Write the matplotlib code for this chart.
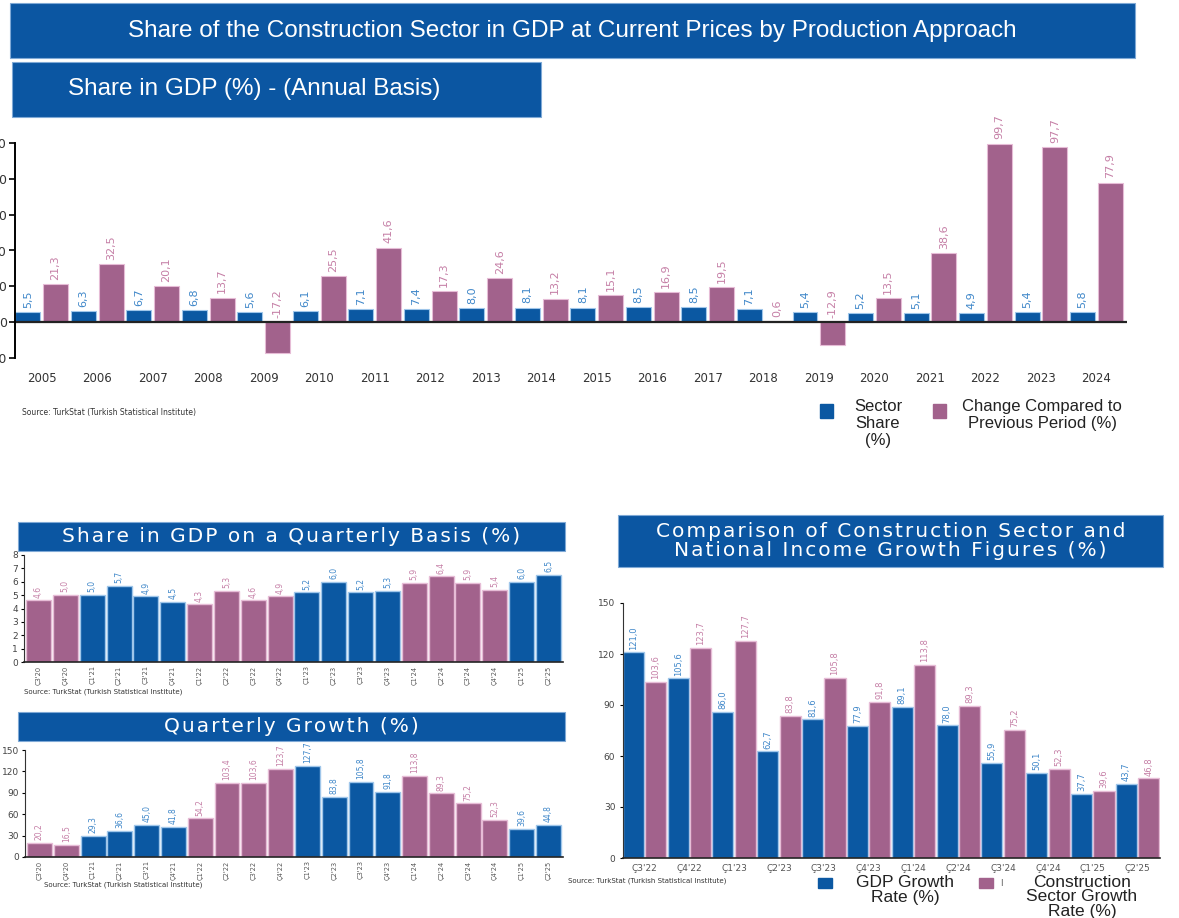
import matplotlib
matplotlib.use('Agg')
import matplotlib.pyplot as plt
from matplotlib.patches import Rectangle

## canvas size in pixels
W, H = 1179, 918

## annual data
years = [str(y) for y in range(2005, 2025)]
sector_share = [5.5, 6.3, 6.7, 6.8, 5.6, 6.1, 7.1, 7.4, 8.0, 8.1, 8.1, 8.5, 8.5, 7.1, 5.4, 5.2, 5.1, 4.9, 5.4, 5.8]
share_change = [21.3, 32.5, 20.1, 13.7, -17.2, 25.5, 41.6, 17.3, 24.6, 13.2, 15.1, 16.9, 19.5, 0.6, -12.9, 13.5, 38.6, 99.7, 97.7, 77.9]
annual_ticks = [-20, 0, 20, 40, 60, 80, 100]

## quarterly data
quarters = ["Ç3'20", "Ç4'20", "Ç1'21", "Ç2'21", "Ç3'21", "Ç4'21", "Ç1'22", "Ç2'22", "Ç3'22", "Ç4'22",
            "Ç1'23", "Ç2'23", "Ç3'23", "Ç4'23", "Ç1'24", "Ç2'24", "Ç3'24", "Ç4'24", "Ç1'25", "Ç2'25"]
q_share = [4.6, 5.0, 5.0, 5.7, 4.9, 4.5, 4.3, 5.3, 4.6, 4.9, 5.2, 6.0, 5.2, 5.3, 5.9, 6.4, 5.9, 5.4, 6.0, 6.5]
q_growth = [20.2, 16.5, 29.3, 36.6, 45.0, 41.8, 54.2, 103.4, 103.6, 123.7, 127.7, 83.8, 105.8, 91.8,
            113.8, 89.3, 75.2, 52.3, 39.6, 44.8]

## comparison data
cmp_quarters = ["Ç3'22", "Ç4'22", "Ç1'23", "Ç2'23", "Ç3'23", "Ç4'23", "Ç1'24", "Ç2'24", "Ç3'24", "Ç4'24", "Ç1'25", "Ç2'25"]
gdp_growth = [121.0, 105.6, 86.0, 62.7, 81.6, 77.9, 89.1, 78.0, 55.9, 50.1, 37.7, 43.7]
constr_growth = [103.6, 123.7, 127.7, 83.8, 105.8, 91.8, 113.8, 89.3, 75.2, 52.3, 39.6, 46.8]

BLUE = '#0b58a2'
PINK = '#a2628c'
BLUE_EDGE = '#9fc6ea'
PINK_EDGE = '#e6bcd6'
BLUE_TXT = '#3f87c9'
PINK_TXT = '#c57fa6'
BANNER = '#0b56a2'
SOURCE = 'Source: TurkStat (Turkish Statistical Institute)'

plt.rcParams['font.family'] = ['DejaVu Sans']

fig = plt.figure(figsize=(W / 100, H / 100), dpi=100)


def rect(x0, y0, x1, y1):
    ## pixel box (top-left origin) -> figure fraction
    return [x0 / W, 1 - y1 / H, (x1 - x0) / W, (y1 - y0) / H]


def spaced(text):
    ## fake letter spacing with hair spaces
    return '\n'.join('\u200a'.join(line) for line in text.split('\n'))


def banner(x0, y0, x1, y1, text, x=None, size=16, family='Liberation Sans', ha='center', ls=1.2):
    fig.patches.append(Rectangle((x0 / W, 1 - y1 / H), (x1 - x0) / W, (y1 - y0) / H,
                                 transform=fig.transFigure, facecolor=BANNER,
                                 edgecolor='#7fa9d6', linewidth=0.8))
    tx = (x0 + x1) / 2 if x is None else x
    fig.text(tx / W, 1 - (y0 + y1) / 2 / H, text, color='white', fontsize=size,
             family=family, ha=ha, va='center', linespacing=ls)


def fmt(v):
    return f'{v:.1f}'.replace('.', ',')


def label_bars(ax, xs, vals, color, size, pad=3):
    for x, v in zip(xs, vals):
        ax.annotate(fmt(v), (x, max(v, 0)), xytext=(0, pad), textcoords='offset points',
                    rotation=90, ha='center', va='bottom', fontsize=size, color=color)


## ---------- banners ----------
banner(10, 3, 1135, 58, 'Share of the Construction Sector in GDP at Current Prices by Production Approach', x=572, size=17.5)
banner(12, 62, 541, 117, 'Share in GDP (%) - (Annual Basis)', x=68, ha='left', size=17.5)

## ---------- annual chart ----------
ax = fig.add_axes(rect(15, 143, 1127, 358))
xs = list(range(len(years)))
ax.bar([x - 0.25 for x in xs], sector_share, width=0.45, color=BLUE, edgecolor=BLUE_EDGE, linewidth=0.8)
ax.bar([x + 0.25 for x in xs], share_change, width=0.45, color=PINK, edgecolor=PINK_EDGE, linewidth=0.8)
label_bars(ax, [x - 0.25 for x in xs], sector_share, BLUE_TXT, 8)
label_bars(ax, [x + 0.25 for x in xs], share_change, PINK_TXT, 8)
ax.axhline(0, color='#222222', linewidth=1.6)
ax.set_xlim(-0.48, 19.55)
ax.set_ylim(-20, 100)
ax.set_yticks(annual_ticks)
ax.set_yticklabels([str(t) for t in annual_ticks], fontsize=9, color='#333333')
ax.set_xticks(xs)
ax.set_xticklabels(years, fontsize=8.5, color='#333333')
ax.tick_params(axis='x', length=0, pad=10)
ax.tick_params(axis='y', length=4, width=1.2, pad=2)
for s in ['top', 'right', 'bottom']:
    ax.spines[s].set_visible(False)
ax.spines['left'].set_linewidth(1.4)
fig.text(22 / W, 1 - 412 / H, SOURCE, fontsize=5.5, color='#333333', va='center')

## annual legend
fig.patches.append(Rectangle((820 / W, 1 - 418 / H), 13 / W, 14 / H, transform=fig.transFigure, color=BLUE))
fig.text(878 / W, 1 - 399 / H, 'Sector\nShare\n(%)', fontsize=12, family='Liberation Sans',
         ha='center', va='top', color='#222222', linespacing=1.15)
fig.patches.append(Rectangle((933 / W, 1 - 418 / H), 13 / W, 14 / H, transform=fig.transFigure, color=PINK))
fig.text(1042 / W, 1 - 399 / H, 'Change Compared to\nPrevious Period (%)', fontsize=12, family='Liberation Sans',
         ha='center', va='top', color='#222222', linespacing=1.15)

## ---------- quarterly charts ----------
q_colors = [PINK if q[-2:] in ('20', '22', '24') else BLUE for q in quarters]
q_edges = [PINK_EDGE if c == PINK else BLUE_EDGE for c in q_colors]
q_txt = [PINK_TXT if c == PINK else BLUE_TXT for c in q_colors]
qx = list(range(len(quarters)))


def quarterly(box, vals, ylim, ticks):
    a = fig.add_axes(rect(*box))
    a.bar(qx, vals, width=0.93, color=q_colors, edgecolor=q_edges, linewidth=1.0)
    for x, v, c in zip(qx, vals, q_txt):
        a.annotate(fmt(v), (x, v), xytext=(0, 2), textcoords='offset points', rotation=90,
                   ha='center', va='bottom', fontsize=5.5, color=c)
    a.set_xlim(-0.54, 19.54)
    a.set_ylim(*ylim)
    a.set_yticks(ticks)
    a.set_yticklabels([str(t) for t in ticks], fontsize=6.5, color='#444444')
    a.set_xticks(qx)
    a.set_xticklabels(quarters, rotation=90, fontsize=4.8, color='#555555')
    a.tick_params(axis='x', length=0, pad=2.5)
    a.tick_params(axis='y', length=2.5, pad=2)
    for s in ['top', 'right']:
        a.spines[s].set_visible(False)
    a.spines['left'].set_color('#333333')
    a.spines['bottom'].set_color('#222222')
    a.spines['bottom'].set_linewidth(1.2)
    return a


banner(18, 522, 565, 551, spaced('Share in GDP on a Quarterly Basis (%)'), size=14.5, family='DejaVu Sans')
quarterly((24, 555, 563, 662), q_share, (0, 8), list(range(9)))
fig.text(24 / W, 1 - 692 / H, SOURCE, fontsize=5, color='#333333', va='center')

banner(18, 712, 565, 741, spaced('Quarterly Growth (%)'), size=14.5, family='DejaVu Sans')
quarterly((25, 750, 563, 857), q_growth, (0, 150), [0, 30, 60, 90, 120, 150])
fig.text(44 / W, 1 - 885 / H, SOURCE, fontsize=5, color='#333333', va='center')

## ---------- comparison chart ----------
banner(618, 515, 1163, 567, spaced('Comparison of Construction Sector and\nNational Income Growth Figures (%)'),
       size=14.5, family='DejaVu Sans', ls=1.05)
cx = list(range(len(cmp_quarters)))
ac = fig.add_axes(rect(623, 603, 1160, 858))
ac.bar([x - 0.25 for x in cx], gdp_growth, width=0.47, color=BLUE, edgecolor=BLUE_EDGE, linewidth=1.0)
ac.bar([x + 0.25 for x in cx], constr_growth, width=0.47, color=PINK, edgecolor=PINK_EDGE, linewidth=1.0)
label_bars(ac, [x - 0.25 for x in cx], gdp_growth, BLUE_TXT, 6, pad=2)
label_bars(ac, [x + 0.25 for x in cx], constr_growth, PINK_TXT, 6, pad=2)
ac.set_xlim(-0.48, 11.5)
ac.set_ylim(0, 150)
ac.set_yticks([0, 30, 60, 90, 120, 150])
ac.set_yticklabels(['0', '30', '60', '90', '120', '150'], fontsize=6.5, color='#444444')
ac.set_xticks(cx)
ac.set_xticklabels(cmp_quarters, fontsize=6.5, color='#555555')
ac.tick_params(axis='x', length=0, pad=4)
ac.tick_params(axis='y', length=2.5, pad=3)
for s in ['top', 'right']:
    ac.spines[s].set_visible(False)
ac.spines['left'].set_color('#333333')
ac.spines['bottom'].set_color('#222222')
ac.spines['bottom'].set_linewidth(1.2)
fig.text(568 / W, 1 - 881 / H, SOURCE, fontsize=5, color='#333333', va='center')

## comparison legend
fig.patches.append(Rectangle((818 / W, 1 - 888 / H), 14 / W, 10 / H, transform=fig.transFigure, color=BLUE))
fig.text(905 / W, 1 - 875 / H, 'GDP Growth\nRate (%)', fontsize=12.5, family='Liberation Sans',
         ha='center', va='top', color='#222222', linespacing=1.0)
fig.patches.append(Rectangle((979 / W, 1 - 888 / H), 14 / W, 10 / H, transform=fig.transFigure, color=PINK))
fig.text(1000 / W, 1 - 883 / H, 'I', fontsize=6, color='#555555', va='center')
fig.text(1082 / W, 1 - 875 / H, 'Construction\nSector Growth\nRate (%)', fontsize=12.5, family='Liberation Sans',
         ha='center', va='top', color='#222222', linespacing=0.95)

fig.savefig('out.png', dpi=100)
